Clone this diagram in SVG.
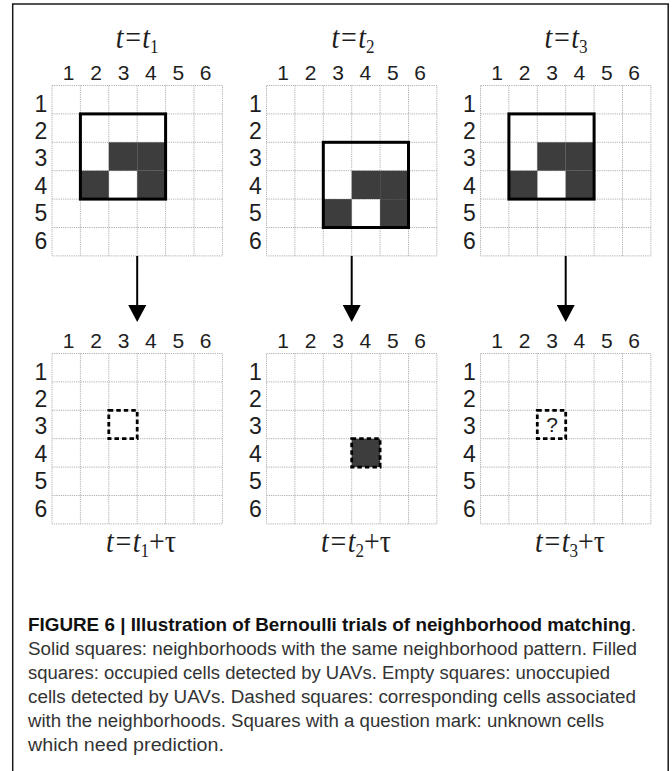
<svg xmlns="http://www.w3.org/2000/svg" xmlns:xlink="http://www.w3.org/1999/xlink" width="672" height="771" viewBox="0 0 672 771">
<style>
.gl{fill:none;stroke:#b0b0b0;stroke-width:1;stroke-dasharray:1.2 1}
.fill{fill:#3d3d3d}
.solid{fill:none;stroke:#000;stroke-width:3}
.dash{fill:none;stroke:#000;stroke-width:2.8;stroke-dasharray:4.5 3}
.num{font-family:"Liberation Sans",Arial,sans-serif;font-size:21px;fill:#1e1e1e;text-anchor:middle}
.rn{font-family:"Liberation Sans",Arial,sans-serif;font-size:23px;fill:#1e1e1e;text-anchor:middle}
.ttl{font-family:"Liberation Serif","Times New Roman",serif;font-size:31px;font-style:italic;fill:#1e1e1e}
.sub{font-style:normal;font-size:19px}
.up{font-style:normal}
.cap{font-family:"Liberation Sans",Arial,sans-serif;font-size:18px;fill:#333}
.capb{font-family:"Liberation Sans",Arial,sans-serif;font-size:18px;font-weight:bold;fill:#111}
.arrow{stroke:#000;stroke-width:2;fill:none}
</style>
<defs>
<g id="grid">
<rect x="0" y="0" width="170.4" height="170.4" class="gl"/>
<path class="gl" d="M28.4,0V170.4M56.8,0V170.4M85.2,0V170.4M113.6,0V170.4M142,0V170.4M0,28.4H170.4M0,56.8H170.4M0,85.2H170.4M0,113.6H170.4M0,142H170.4"/>
</g>
<g id="cols">
<text class="num" x="-68.5" y="0">1</text><text class="num" x="-41.1" y="0">2</text><text class="num" x="-13.7" y="0">3</text><text class="num" x="13.7" y="0">4</text><text class="num" x="41.1" y="0">5</text><text class="num" x="68.5" y="0">6</text>
</g>
<g id="rows">
<text class="rn" x="0" y="0">1</text><text class="rn" x="0" y="27.4">2</text><text class="rn" x="0" y="54.8">3</text><text class="rn" x="0" y="82.2">4</text><text class="rn" x="0" y="109.6">5</text><text class="rn" x="0" y="137">6</text>
</g>
<marker id="ah" markerUnits="userSpaceOnUse" markerWidth="18" markerHeight="18" refX="0" refY="8.5" orient="auto" viewBox="0 0 17 17">
<path d="M0,0L16,8.5L0,17z" fill="#000"/>
</marker>
</defs>
<rect x="12.7" y="4" width="655.5" height="800" fill="none" stroke="#1a1a1a" stroke-width="1.5"/>

<g id="grid-t1">
<text class="ttl" transform="translate(137.2,48) scale(0.9,1)" text-anchor="middle">t=t<tspan class="sub" dy="5">1</tspan></text>
<use xlink:href="#cols" x="137.2" y="79.5"/>
<use xlink:href="#rows" x="41" y="111.5"/>
<use xlink:href="#grid" x="52" y="85.5"/>
<rect class="fill" x="108.8" y="142.3" width="28.4" height="28.4"/>
<rect class="fill" x="137.2" y="142.3" width="28.4" height="28.4"/>
<rect class="fill" x="80.4" y="170.7" width="28.4" height="28.4"/>
<rect class="fill" x="137.2" y="170.7" width="28.4" height="28.4"/>
<rect class="solid" x="80.4" y="113.9" width="85.2" height="85.2"/>
</g>

<g id="grid-t2">
<text class="ttl" transform="translate(353,48) scale(0.9,1)" text-anchor="middle">t=t<tspan class="sub" dy="5">2</tspan></text>
<use xlink:href="#cols" x="351.7" y="79.5"/>
<use xlink:href="#rows" x="255.5" y="111.5"/>
<use xlink:href="#grid" x="266.5" y="85.5"/>
<rect class="fill" x="351.7" y="170.7" width="28.4" height="28.4"/>
<rect class="fill" x="380.1" y="170.7" width="28.4" height="28.4"/>
<rect class="fill" x="323.3" y="199.1" width="28.4" height="28.4"/>
<rect class="fill" x="380.1" y="199.1" width="28.4" height="28.4"/>
<rect class="solid" x="323.3" y="142.3" width="85.2" height="85.2"/>
</g>

<g id="grid-t3">
<text class="ttl" transform="translate(566,48) scale(0.9,1)" text-anchor="middle">t=t<tspan class="sub" dy="5">3</tspan></text>
<use xlink:href="#cols" x="565.7" y="79.5"/>
<use xlink:href="#rows" x="469.5" y="111.5"/>
<use xlink:href="#grid" x="480.5" y="85.5"/>
<rect class="fill" x="537.3" y="142.3" width="28.4" height="28.4"/>
<rect class="fill" x="565.7" y="142.3" width="28.4" height="28.4"/>
<rect class="fill" x="508.9" y="170.7" width="28.4" height="28.4"/>
<rect class="fill" x="565.7" y="170.7" width="28.4" height="28.4"/>
<rect class="solid" x="508.9" y="113.9" width="85.2" height="85.2"/>
</g>

<g id="grid-t1-tau">
<use xlink:href="#cols" x="137.2" y="347.5"/>
<use xlink:href="#rows" x="41" y="379.5"/>
<use xlink:href="#grid" x="52" y="353.5"/>
<rect class="dash" x="108.8" y="410.3" width="28.4" height="28.4"/>
<text class="ttl" transform="translate(141,552) scale(0.9,1)" text-anchor="middle">t=t<tspan class="sub" dy="5">1</tspan><tspan class="up" dy="-5">+τ</tspan></text>
</g>

<g id="grid-t2-tau">
<use xlink:href="#cols" x="351.7" y="347.5"/>
<use xlink:href="#rows" x="255.5" y="379.5"/>
<use xlink:href="#grid" x="266.5" y="353.5"/>
<rect class="fill" x="351.7" y="438.7" width="28.4" height="28.4"/>
<rect class="dash" x="351.7" y="438.7" width="28.4" height="28.4"/>
<text class="ttl" transform="translate(356,552) scale(0.9,1)" text-anchor="middle">t=t<tspan class="sub" dy="5">2</tspan><tspan class="up" dy="-5">+τ</tspan></text>
</g>

<g id="grid-t3-tau">
<use xlink:href="#cols" x="565.7" y="347.5"/>
<use xlink:href="#rows" x="469.5" y="379.5"/>
<use xlink:href="#grid" x="480.5" y="353.5"/>
<rect class="dash" x="537.3" y="410.3" width="28.4" height="28.4"/>
<text class="num" x="552" y="432">?</text>
<text class="ttl" transform="translate(570,552) scale(0.9,1)" text-anchor="middle">t=t<tspan class="sub" dy="5">3</tspan><tspan class="up" dy="-5">+τ</tspan></text>
</g>

<g id="connectors">
<line class="arrow" x1="137.2" y1="256" x2="137.2" y2="305" marker-end="url(#ah)"/>
<line class="arrow" x1="351.7" y1="256" x2="351.7" y2="305" marker-end="url(#ah)"/>
<line class="arrow" x1="565.7" y1="256" x2="565.7" y2="305" marker-end="url(#ah)"/>
</g>

<g id="caption">
<text class="capb" x="28" y="631" textLength="603" lengthAdjust="spacingAndGlyphs">FIGURE 6 | Illustration of Bernoulli trials of neighborhood matching</text>
<text class="cap" x="631" y="631">.</text>
<text class="cap" x="28" y="655" textLength="609" lengthAdjust="spacingAndGlyphs">Solid squares: neighborhoods with the same neighborhood pattern. Filled</text>
<text class="cap" x="28" y="679" textLength="582" lengthAdjust="spacingAndGlyphs">squares: occupied cells detected by UAVs. Empty squares: unoccupied</text>
<text class="cap" x="28" y="703" textLength="608" lengthAdjust="spacingAndGlyphs">cells detected by UAVs. Dashed squares: corresponding cells associated</text>
<text class="cap" x="28" y="727" textLength="576" lengthAdjust="spacingAndGlyphs">with the neighborhoods. Squares with a question mark: unknown cells</text>
<text class="cap" x="28" y="751" textLength="196" lengthAdjust="spacingAndGlyphs">which need prediction.</text>
</g>
</svg>
